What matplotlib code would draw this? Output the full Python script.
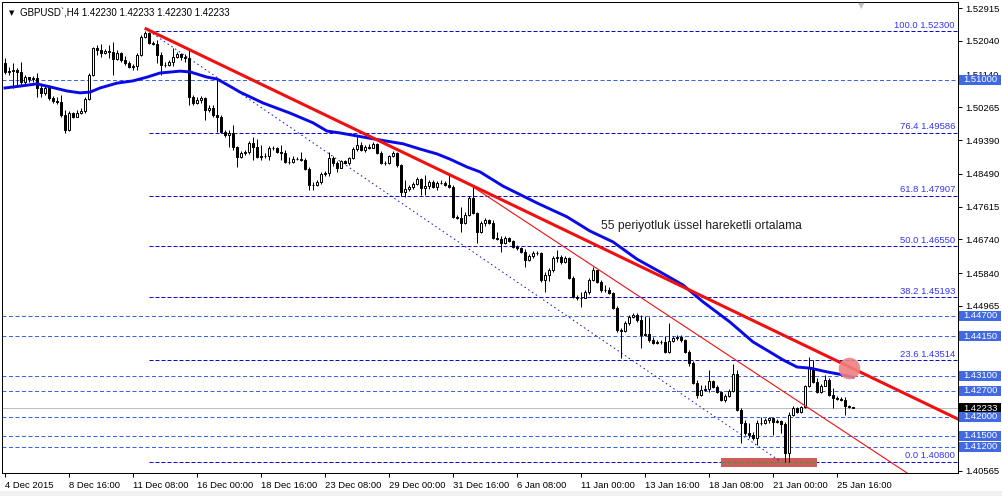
import numpy as np
import matplotlib
matplotlib.use("Agg")
import matplotlib.pyplot as plt
from matplotlib.patches import Rectangle
import matplotlib.transforms as mtransforms

# ---------------- data (prices in 1e-4 units) ----------------
open_first = 15145
close_pts = [
    15121, 15123, 15126, 15121, 15094, 15107, 15102, 15105, 15078, 15065,
    15078, 15051, 15043, 15041, 15006, 14966, 15011, 15001, 15011, 15017,
    15049, 15113, 15185, 15180, 15171, 15177, 15174, 15155, 15171, 15153,
    15145, 15134, 15137, 15166, 15214, 15225, 15198, 15196, 15166, 15139,
    15139, 15147, 15161, 15169, 15161, 15158, 15054, 15038, 15046, 15051,
    15019, 15025, 15006, 15001, 14961, 14953, 14958, 14921, 14894, 14904,
    14907, 14931, 14921, 14894, 14896, 14896, 14918, 14918, 14907, 14904,
    14880, 14880, 14888, 14888, 14886, 14862, 14819, 14819, 14827, 14848,
    14851, 14891, 14878, 14864, 14883, 14878, 14891, 14915, 14926, 14913,
    14921, 14918, 14929, 14904, 14878, 14878, 14896, 14904, 14872, 14800,
    14808, 14814, 14822, 14835, 14811, 14816, 14827, 14814, 14824, 14824,
    14819, 14814, 14734, 14731, 14718, 14739, 14784, 14744, 14694, 14718,
    14726, 14718, 14678, 14675, 14664, 14678, 14670, 14654, 14651, 14640,
    14619, 14630, 14638, 14638, 14565, 14579, 14592, 14624, 14627, 14614,
    14624, 14571, 14520, 14517, 14517, 14533, 14565, 14592, 14560, 14539,
    14539, 14531, 14491, 14432, 14429, 14451, 14467, 14472, 14459, 14419,
    14421, 14405, 14397, 14400, 14400, 14373, 14403, 14411, 14413, 14405,
    14373, 14344, 14290, 14258, 14272, 14274, 14296, 14280, 14266, 14245,
    14256, 14269, 14314, 14218, 14184, 14157, 14152, 14144, 14184, 14184,
    14192, 14197, 14186, 14189, 14181, 14104, 14205, 14224, 14213, 14226,
    14282, 14330, 14293, 14266, 14282, 14298, 14258, 14250, 14248, 14245,
    14229, 14226, 14223]
high_pts = [
    15158, 15134, 15145, 15131, 15147, 15113, 15107, 15110, 15118, 15086,
    15083, 15086, 15057, 15054, 15059, 15019, 15017, 15014, 15019, 15025,
    15054, 15118, 15188, 15193, 15196, 15182, 15193, 15201, 15180, 15174,
    15163, 15150, 15142, 15171, 15220, 15230, 15228, 15204, 15206, 15174,
    15147, 15153, 15185, 15174, 15171, 15169, 15180, 15059, 15054, 15057,
    15054, 15033, 15033, 15099, 15006, 14966, 14966, 14979, 14923, 14910,
    14913, 14937, 14947, 14942, 14926, 14904, 14923, 14923, 14921, 14926,
    14913, 14894, 14896, 14894, 14907, 14891, 14867, 14827, 14832, 14854,
    14856, 14907, 14896, 14883, 14886, 14886, 14894, 14921, 14947, 14934,
    14926, 14929, 14934, 14931, 14910, 14883, 14899, 14910, 14907, 14875,
    14832, 14819, 14827, 14840, 14838, 14846, 14832, 14832, 14830, 14832,
    14830, 14846, 14819, 14739, 14760, 14747, 14790, 14814, 14747, 14723,
    14731, 14728, 14726, 14694, 14683, 14683, 14680, 14672, 14659, 14654,
    14648, 14635, 14643, 14643, 14640, 14587, 14597, 14630, 14646, 14632,
    14630, 14627, 14576, 14525, 14533, 14539, 14571, 14600, 14592, 14565,
    14552, 14547, 14533, 14496, 14437, 14456, 14472, 14477, 14477, 14472,
    14469, 14467, 14413, 14405, 14405, 14416, 14451, 14416, 14419, 14419,
    14408, 14379, 14349, 14298, 14285, 14285, 14325, 14298, 14285, 14269,
    14261, 14274, 14341, 14325, 14224, 14192, 14184, 14160, 14192, 14200,
    14197, 14200, 14200, 14194, 14192, 14186, 14213, 14229, 14226, 14229,
    14285, 14360, 14352, 14304, 14288, 14312, 14304, 14277, 14256, 14253,
    14253, 14232, 14226]
low_pts = [
    15115, 15113, 15078, 15086, 15086, 15089, 15094, 15094, 15054, 15054,
    15059, 15046, 15038, 15035, 15001, 14958, 14963, 14998, 15001, 15009,
    15011, 15046, 15110, 15166, 15161, 15169, 15158, 15113, 15153, 15147,
    15139, 15131, 15126, 15126, 15163, 15212, 15196, 15193, 15145, 15113,
    15134, 15137, 15137, 15158, 15153, 15147, 15033, 15033, 15035, 15038,
    14993, 15014, 15001, 14961, 14958, 14947, 14921, 14913, 14867, 14891,
    14899, 14902, 14886, 14891, 14886, 14891, 14886, 14913, 14904, 14886,
    14878, 14875, 14878, 14886, 14883, 14859, 14806, 14806, 14816, 14822,
    14843, 14843, 14870, 14854, 14864, 14875, 14872, 14888, 14910, 14910,
    14907, 14915, 14918, 14902, 14875, 14872, 14875, 14894, 14867, 14790,
    14787, 14803, 14808, 14819, 14792, 14792, 14808, 14811, 14806, 14822,
    14816, 14811, 14731, 14728, 14694, 14715, 14736, 14742, 14664, 14691,
    14710, 14715, 14675, 14672, 14640, 14662, 14667, 14651, 14646, 14638,
    14600, 14616, 14624, 14632, 14560, 14533, 14563, 14587, 14614, 14608,
    14611, 14568, 14517, 14512, 14493, 14517, 14528, 14563, 14557, 14533,
    14533, 14528, 14488, 14427, 14357, 14427, 14445, 14464, 14453, 14384,
    14416, 14400, 14395, 14395, 14395, 14370, 14370, 14400, 14405, 14400,
    14370, 14336, 14288, 14250, 14256, 14269, 14266, 14277, 14264, 14242,
    14240, 14253, 14266, 14216, 14130, 14152, 14144, 14138, 14125, 14178,
    14181, 14184, 14152, 14184, 14157, 14080, 14080, 14202, 14210, 14210,
    14224, 14280, 14290, 14264, 14264, 14282, 14256, 14224, 14245, 14242,
    14205, 14224, 14223]

# 55-period EMA (bar index, price*1e4)
ema_bar = [0, 3.75, 8, 11.25, 15.5, 18.75, 21.25, 23.75, 28, 32,
           35.5, 38.75, 43.75, 46.25, 50.5, 53, 57, 58.75, 64.5, 71.25,
           77, 80.5, 83.75, 89.5, 95.5, 99.5, 103.75, 108, 111.25, 115.5,
           118.75, 124.5, 133, 140.5, 146.25, 152, 158, 163.75, 169.5, 174.5,
           181.25, 187, 191.25, 194.5, 198, 201.25, 205.5, 209.5, 212]
ema_pts = [15078, 15083, 15089, 15081, 15070, 15065, 15067, 15078, 15091, 15097,
           15107, 15118, 15123, 15121, 15107, 15102, 15078, 15067, 15038, 15011,
           14985, 14963, 14958, 14947, 14936, 14929, 14915, 14902, 14888, 14867,
           14854, 14816, 14771, 14734, 14696, 14667, 14621, 14587, 14552, 14507,
           14453, 14400, 14373, 14352, 14333, 14330, 14320, 14312, 14306]

fib_names = ["100.0", "76.4", "61.8", "50.0", "38.2", "23.6", "0.0"]
fib_levels = [1.52300, 1.49586, 1.47907, 1.46550, 1.45193, 1.43514, 1.40800]
fib_start_bar = 36
fib_diag_bars = [36, 194]
fib_diag_prices = [1.52300, 1.40800]

level_prices = [1.51000, 1.44700, 1.44150, 1.43100, 1.42700, 1.42000, 1.41500, 1.41200]
current_price = 1.42233

trend_thick_bars = [35.25, 238.25]
trend_thick_prices = [1.52360, 1.41940]
trend_thin_bars = [117, 240]
trend_thin_prices = [1.48140, 1.39481]

rect_bars = [179, 203]
rect_prices = [1.40670, 1.40900]
circle_bar = 211
circle_price = 1.43300

ytick_vals = [1.52915, 1.52040, 1.51140, 1.50265, 1.49390, 1.48490, 1.47615, 1.46740,
              1.45840, 1.44965, 1.44090, 1.43190, 1.42315, 1.41440, 1.40565]
# tick labels fully hidden behind the price boxes in the reference
ytick_hidden = [1.44090, 1.43190, 1.42315, 1.41440]
xtick_bars = [0, 16, 32, 48, 64, 80, 96, 112, 128, 144, 160, 176, 192, 208]
xtick_labels = ["4 Dec 2015", "8 Dec 16:00", "11 Dec 08:00", "16 Dec 00:00", "18 Dec 16:00",
                "23 Dec 08:00", "29 Dec 00:00", "31 Dec 16:00", "6 Jan 08:00", "11 Jan 00:00",
                "13 Jan 16:00", "18 Jan 08:00", "21 Jan 00:00", "25 Jan 16:00"]
title_text = "GBPUSD`,H4 1.42230 1.42233 1.42230 1.42233"
ema_note = "55 periyotluk üssel hareketli ortalama"
ema_note_bar = 149
ema_note_price = 1.47100

# ---------------- figure ----------------
plt.rcParams['font.family'] = ['Liberation Sans', 'DejaVu Sans']
W, H = 1002, 496
L, R, T, B = 2, 958, 2, 473
fs = 6.8
fig = plt.figure(figsize=(W / 100, H / 100), dpi=100)
fig.patch.set_facecolor('white')
ax = fig.add_axes([L / W, 1 - B / H, (R - L) / W, (B - T) / H])
ax.set_facecolor('white')

XMIN, XMAX = -0.75, 238.25
YMIN, YMAX = 1.40500, 1.53076

close = np.array(close_pts) / 1e4
high = np.array(high_pts) / 1e4
low = np.array(low_pts) / 1e4
opens = np.concatenate([[open_first / 1e4], close[:-1]])
idx = np.arange(len(close))

px = 0.72  # one pixel in points

# horizontal support lines
for lv in level_prices:
    ax.axhline(lv, color='#3A66E6', lw=px, dashes=(4, 2.5), zorder=1)
# fib lines
for name, lv in zip(fib_names, fib_levels):
    ax.plot([fib_start_bar, XMAX], [lv, lv], color='#0A0ACD', lw=px, dashes=(4, 2), zorder=1)
    ax.text(237.5, lv + 0.00035, f"{name} {lv:.5f}", ha='right', va='bottom',
            color='#3535EE', fontsize=fs, zorder=6)
# current price line
ax.axhline(current_price, color='#BDBDBD', lw=px, zorder=1)

# red rectangle at the low
ax.add_patch(Rectangle((rect_bars[0], rect_prices[0]), rect_bars[1] - rect_bars[0],
                       rect_prices[1] - rect_prices[0], facecolor='#CD5C5C',
                       edgecolor='none', zorder=2))
ax.plot(rect_bars, [fib_levels[-1]] * 2, color='#3C9A3C', lw=px, dashes=(4, 2), zorder=2.1)

# fib diagonal
ax.plot(fib_diag_bars, fib_diag_prices, color='#1010D0', lw=px, dashes=(1.5, 3), zorder=2)

# candles
ax.vlines(idx, low, high, color='black', lw=px, zorder=3)
up = close > opens
bottoms = np.minimum(opens, close)
heights = np.maximum(np.abs(close - opens), 1e-6)
ax.bar(idx, heights, width=0.5, bottom=bottoms,
       color=np.where(up, 'white', 'black'), edgecolor='black', linewidth=px, zorder=4)

# EMA
ax.plot(ema_bar, np.array(ema_pts) / 1e4, color='#0A0AE6', lw=2.1, zorder=5,
        solid_joinstyle='round')

# trend lines
ax.plot(trend_thick_bars, trend_thick_prices, color='#F01010', lw=2.2, zorder=6)
ax.plot(trend_thin_bars, trend_thin_prices, color='#F01010', lw=0.8, zorder=6)

# circle
ax.plot([circle_bar], [circle_price], 'o', ms=15.5, color='#F08080', alpha=0.9,
        markeredgewidth=0, zorder=7)

# note
ax.text(ema_note_bar, ema_note_price, ema_note, fontsize=8.7, ha='left', va='center',
        color='#202020', zorder=8)

# axes styling
for s in ax.spines.values():
    s.set_color('black')
    s.set_linewidth(px)
ax.set_xticks(xtick_bars)
ax.set_xticklabels(xtick_labels, fontsize=fs)
for lbl in ax.get_xticklabels():
    lbl.set_horizontalalignment('left')
ax.tick_params(axis='x', length=3, width=px, pad=2.5, direction='out')
ax.yaxis.tick_right()
ax.set_yticks(ytick_vals)
ax.set_yticklabels(["" if v in ytick_hidden else f"{v:.5f}" for v in ytick_vals], fontsize=fs)
ax.tick_params(axis='y', length=3, width=px, pad=2, direction='out')

# price boxes on the right axis
bt = mtransforms.blended_transform_factory(fig.transFigure, ax.transData)
hbox = 10 * (YMAX - YMIN) / (B - T)
boxes = [(current_price, 'black')] + [(lv, '#4169E1') for lv in level_prices]
for lv, col in boxes:
    z = 20 if col == 'black' else 21
    ax.add_patch(Rectangle((959 / W, lv - hbox / 2), 42 / W, hbox, transform=bt,
                           facecolor=col, edgecolor='none', clip_on=False, zorder=z))
    ax.text(980 / W, lv, f"{lv:.5f}", transform=bt, ha='center', va='center',
            color='white', fontsize=fs, clip_on=False, zorder=z + 0.5)
ax.set_xlim(XMIN, XMAX)
ax.set_ylim(YMIN, YMAX)

# title and markers
fig.text(20 / W, 1 - 13 / H, title_text, ha='left', va='center', fontsize=7.0, color='black')
fig.text(12 / W, 1 - 13 / H, '\u25BC', ha='center', va='center', fontsize=5,
         family='DejaVu Sans', color='black')
fig.text(861 / W, 1 - 6 / H, '\u25BC', ha='center', va='center', fontsize=6,
         family='DejaVu Sans', color='#C0C0C0')

# bottom window strip
fig.add_artist(Rectangle((0, 0), 1, 5 / H, transform=fig.transFigure,
                         facecolor='#F0F0F0', edgecolor='none'))

fig.savefig('out.png', dpi=100, facecolor='white')
